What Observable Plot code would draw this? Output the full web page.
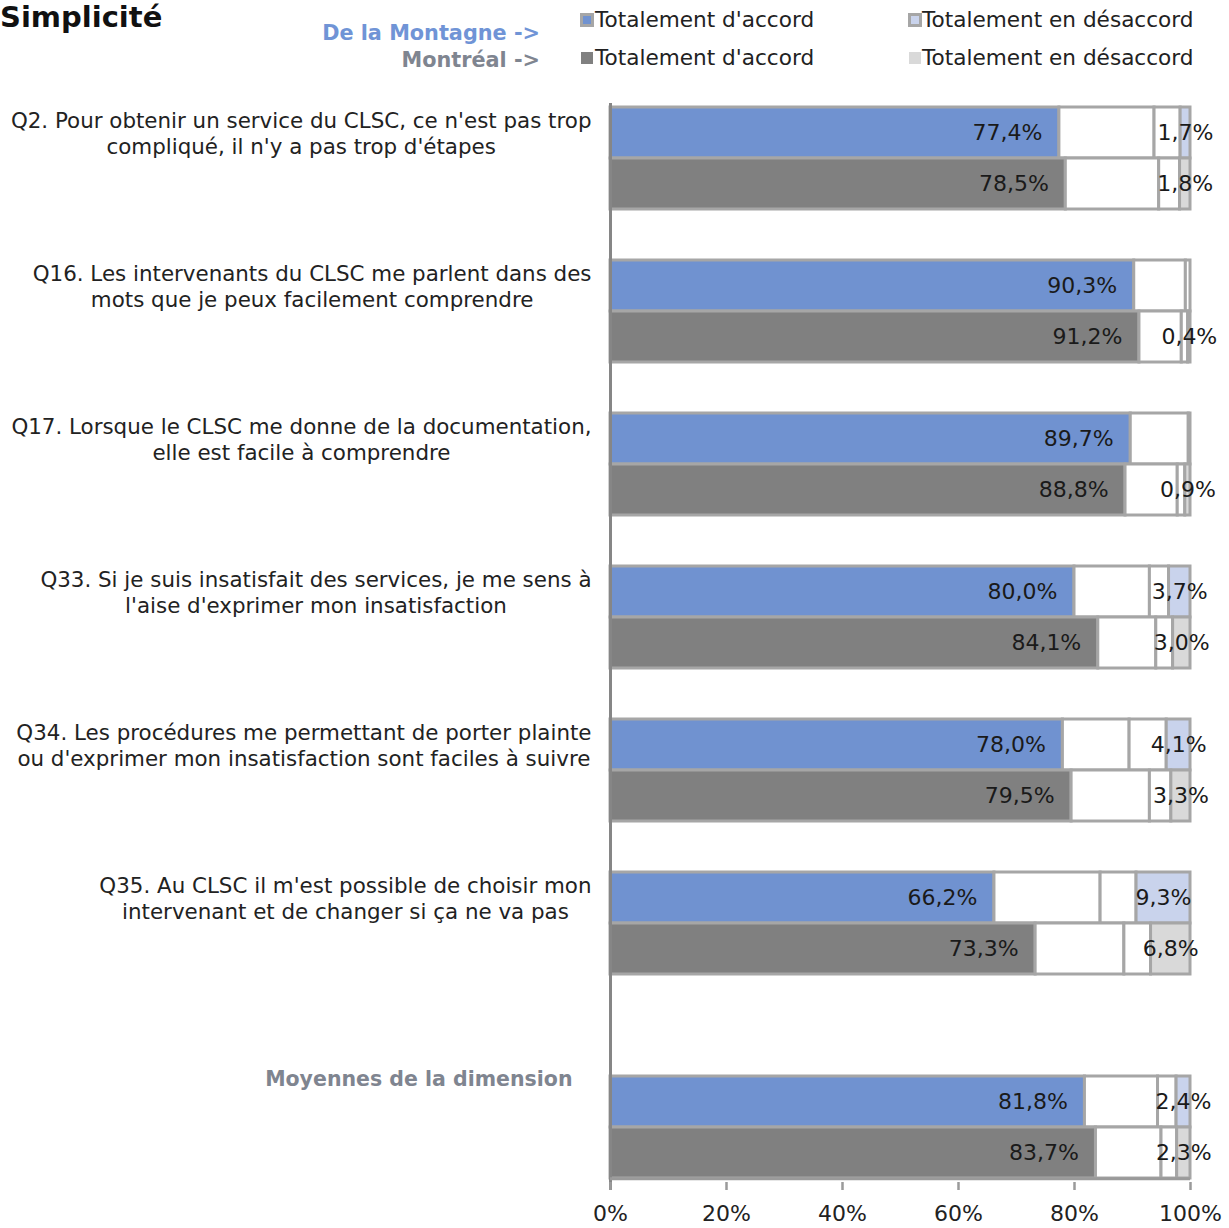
<!DOCTYPE html>
<html><head><meta charset="utf-8">
<script src="https://cdn.jsdelivr.net/npm/d3@7"></script>
<script src="https://cdn.jsdelivr.net/npm/@observablehq/plot@0.6"></script>
<style>
body{margin:0;background:#fff;font-family:"DejaVu Sans",Verdana,sans-serif;}
#wrap{position:relative;width:1229px;overflow:hidden;}
#header{position:relative;height:85px;}
.title{position:absolute;left:0px;top:0px;font-weight:bold;font-size:29px;line-height:34px;color:#111;white-space:nowrap;}
.site{position:absolute;right:689px;font-weight:bold;font-size:20.8px;white-space:nowrap;line-height:24px;}
.item{position:absolute;font-size:21.6px;color:#222;white-space:nowrap;line-height:24px;}
.mk{position:absolute;box-sizing:border-box;}
</style></head><body>
<div id="wrap"><div id="header"></div><div id="chart"></div></div>
<script>
// ---- data ----
const title = "Simplicité";
const sites = ["De la Montagne", "Montréal"];
const segments = ["Totalement d'accord", "Plutôt d'accord", "Plutôt en désaccord", "Totalement en désaccord"];
const questions = [
  "Q2. Pour obtenir un service du CLSC, ce n'est pas trop\ncompliqué, il n'y a pas trop d'étapes",
  "Q16. Les intervenants du CLSC me parlent dans des\nmots que je peux facilement comprendre",
  "Q17. Lorsque le CLSC me donne de la documentation,\nelle est facile à comprendre",
  "Q33. Si je suis insatisfait des services, je me sens à\nl'aise d'exprimer mon insatisfaction",
  "Q34. Les procédures me permettant de porter plainte\nou d'exprimer mon insatisfaction sont faciles à suivre",
  "Q35. Au CLSC il m'est possible de choisir mon\nintervenant et de changer si ça ne va pas",
  "Moyennes de la dimension"
];
const dlmTA = [77.4, 90.3, 89.7, 80.0, 78.0, 66.2, 81.8];
const dlmPA = [16.4, 8.9, 10.0, 13.0, 11.5, 18.3, 12.6];
const dlmPD = [4.5, 0.8, 0.3, 3.3, 6.4, 6.2, 3.2];
const dlmTD = [1.7, 0.0, 0.0, 3.7, 4.1, 9.3, 2.4];
const mtlTA = [78.5, 91.2, 88.8, 84.1, 79.5, 73.3, 83.7];
const mtlPA = [16.1, 7.3, 9.0, 10.0, 13.5, 15.3, 11.3];
const mtlPD = [3.6, 1.1, 1.3, 2.9, 3.7, 4.6, 2.7];
const mtlTD = [1.8, 0.4, 0.9, 3.0, 3.3, 6.8, 2.3];
const xTicks = [0, 20, 40, 60, 80, 100];

// ---- styles ----
const palette = [
  ["#7092D0", "#FFFFFF", "#FFFFFF", "#C9D3EC"],
  ["#808080", "#FFFFFF", "#FFFFFF", "#D9D9D9"]
];
const siteColors = ["#7094D6", "#7F8590"];
const border = "#A6A6A6";
const FONT = '"DejaVu Sans", Verdana, sans-serif';

// ---- header (title + legend) ----
const header = document.getElementById("header");
header.innerHTML = `<div class="title">${title}</div>`;
const rowsY = [20, 58];
const siteY = [33, 60];
sites.forEach((s, i) => {
  const d = document.createElement("div");
  d.className = "site"; d.style.top = (siteY[i] - 12) + "px"; d.style.color = siteColors[i];
  d.textContent = s + " ->"; header.appendChild(d);
  [[0, 580, 595], [3, 908, 922]].forEach(([k, mx, tx]) => {
    const m = document.createElement("div");
    m.className = "mk";
    if (i === 0) {
      m.style.cssText += `left:${mx}px;top:${rowsY[i]-7}px;width:14px;height:14px;border:3px solid ${border};background:${palette[i][k]};`;
    } else {
      m.style.cssText += `left:${mx+1}px;top:${rowsY[i]-6}px;width:12px;height:12px;background:${palette[i][k]};`;
    }
    header.appendChild(m);
    const t = document.createElement("div");
    t.className = "item"; t.style.left = tx + "px"; t.style.top = (rowsY[i] - 12) + "px";
    t.textContent = segments[k]; header.appendChild(t);
  });
});

// ---- table ----
const rowOf = i => i < 6 ? 3 * i : 19;
const series = [[dlmTA, dlmPA, dlmPD, dlmTD], [mtlTA, mtlPA, mtlPD, mtlTD]];
const table = [];
sites.forEach((site, s) => {
  questions.forEach((q, i) => {
    let acc = 0;
    segments.forEach((seg, k) => {
      const v = series[s][k][i];
      table.push({site, s, q, i, row: rowOf(i) + s, seg, k, value: v, x1: acc, x2: acc + v});
      acc += v;
    });
  });
});
const fmt = v => v.toFixed(1).replace(".", ",") + "%";

// ---- layout ----
const W = 1229, H = 1143, mt = 18, mb = 46, ml = 610, mr = 39;
const nRows = 21;
const bw = (H - mt - mb) / nRows;

const canvas = document.createElement("canvas").getContext("2d");
function textW(str, size, weight = "normal") {
  canvas.font = `${weight} ${size}px ${FONT}`;
  return Math.max(...str.split("\n").map(l => canvas.measureText(l).width));
}
const LABEL_SIZE = 21.4;
const labelMarks = questions.map((q, i) => {
  if (i === 6) {
    return Plot.text([q], {
      text: d => d, frameAnchor: "left", y: () => rowOf(i), dy: -bw / 2 + 3, dx: 572 - ml,
      textAnchor: "end", fontSize: 20.5, fontWeight: "bold", fill: siteColors[1], fontFamily: FONT
    });
  }
  const w = textW(q, LABEL_SIZE);
  return Plot.text([q], {
    text: d => d, frameAnchor: "left", y: () => rowOf(i), dx: (591 - w / 2) - ml,
    textAnchor: "middle", lineAnchor: "middle", lineHeight: 1.2, fontSize: LABEL_SIZE, fill: "#222", fontFamily: FONT
  });
});

const chart = Plot.plot({
  width: W, height: H, marginTop: mt, marginBottom: mb, marginLeft: ml, marginRight: mr,
  style: {fontFamily: FONT, background: "#fff"},
  x: {domain: [0, 100], axis: null},
  y: {type: "band", domain: d3.range(nRows), padding: 0, axis: null},
  marks: [
    Plot.barX(table, {
      x1: "x1", x2: "x2", y: "row",
      fill: d => palette[d.s][d.k], stroke: border, strokeWidth: 3
    }),
    Plot.text(table.filter(d => d.k === 0), {
      x: "x2", y: "row", text: d => fmt(d.value), textAnchor: "end", dx: -17,
      fontSize: 22, fill: "#1a1a1a", fontFamily: FONT
    }),
    Plot.text(table.filter(d => d.k === 3 && d.value > 0), {
      x: d => (d.x1 + d.x2) / 2, y: "row", text: d => fmt(d.value), textAnchor: "middle",
      fontSize: 22, fill: "#1a1a1a", fontFamily: FONT
    }),
    Plot.ruleX([0], {stroke: "#868686", strokeWidth: 3, insetBottom: -8}),
    Plot.ruleY([nRows - 1], {y: d => d, x1: 0, x2: 100, dy: bw / 2, stroke: "#9a9a9a", strokeWidth: 3}),
    Plot.axisX({ticks: xTicks, tickFormat: d => d + "%", tickSize: 8, tickPadding: 15,
      fontSize: 22, stroke: "#9a9a9a", strokeWidth: 2.5, fill: "#222"}),
    ...labelMarks
  ]
});
document.getElementById("chart").appendChild(chart);
</script></body></html>
